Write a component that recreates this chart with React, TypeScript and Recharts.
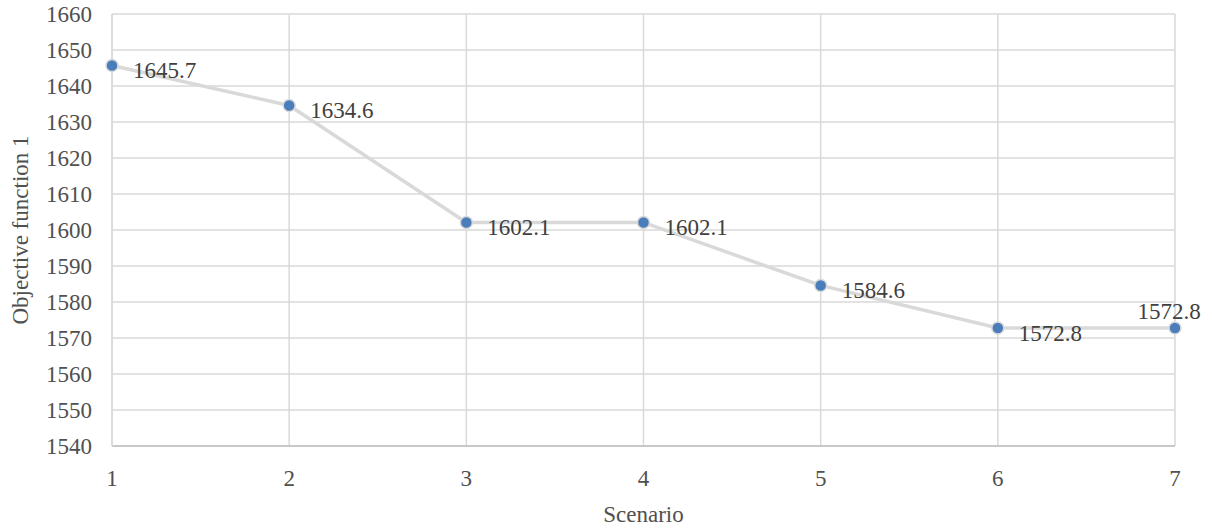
import React from "react";
import { LineChart, Line, XAxis, YAxis, CartesianGrid, LabelList } from "recharts";

const scenarios = [1, 2, 3, 4, 5, 6, 7];
const objectiveValues = [1645.7, 1634.6, 1602.1, 1602.1, 1584.6, 1572.8, 1572.8];
const yTicks = [1540, 1550, 1560, 1570, 1580, 1590, 1600, 1610, 1620, 1630, 1640, 1650, 1660];

const data = scenarios.map((s, i) => ({ scenario: s, value: objectiveValues[i] }));

const FONT = "Liberation Serif";
const TEXT = "#505050";
const textStyle = { fontFamily: FONT, fontSize: 23, fill: TEXT };

const ValueLabel = (props: any) => {
  const { x, y, index, value } = props;
  const last = index === data.length - 1;
  if (last) {
    return (
      <text x={x - 6} y={y - 9} textAnchor="middle" fontFamily={FONT} fontSize={23} fill="#404040" style={{ ...textStyle, fill: "#404040" }}>
        {Number(value).toFixed(1)}
      </text>
    );
  }
  return (
    <text x={x + 21} y={y + 13} textAnchor="start" fontFamily={FONT} fontSize={23} fill="#404040" style={{ ...textStyle, fill: "#404040" }}>
      {Number(value).toFixed(1)}
    </text>
  );
};

export default function App() {
  return (
    <div style={{ position: "absolute", left: 0, top: 0, background: "#fff", fontFamily: FONT }}>
      <LineChart
        width={1212}
        height={532}
        data={data}
        margin={{ top: 14, right: 37, bottom: 0, left: 0 }}
        style={{ fontFamily: FONT }}
      >
        <CartesianGrid stroke="#d9d9d9" strokeWidth={1.5} vertical={true} horizontal={true} />
        <XAxis
          dataKey="scenario"
          type="number"
          domain={[1, 7]}
          ticks={scenarios}
          interval={0}
          axisLine={{ stroke: "#bfbfbf", strokeWidth: 1.5 }}
          tickLine={false}
          tickSize={0}
          tickMargin={24}
          tick={{ style: textStyle, fontSize: 23, fill: TEXT }}
          label={{ value: "Scenario", position: "insideBottom", offset: 10, style: textStyle }}
          height={86}
        />
        <YAxis
          type="number"
          domain={[1540, 1660]}
          ticks={yTicks}
          interval={0}
          axisLine={{ stroke: "#d9d9d9", strokeWidth: 1.5 }}
          tickLine={false}
          tickSize={0}
          tickMargin={20}
          width={112}
          tick={{ style: textStyle, fontSize: 23, fill: TEXT }}
          label={{
            value: "Objective function 1",
            angle: -90,
            position: "insideLeft",
            offset: 20,
            style: { ...textStyle, textAnchor: "middle" },
          }}
        />
        <Line
          type="linear"
          dataKey="value"
          stroke="#d9d9d9"
          strokeWidth={3.5}
          isAnimationActive={false}
          dot={{ r: 6, fill: "#4a7ebb", stroke: "#d9d9d9", strokeWidth: 1.5 }}
        >
          <LabelList dataKey="value" content={ValueLabel} />
        </Line>
      </LineChart>
    </div>
  );
}
